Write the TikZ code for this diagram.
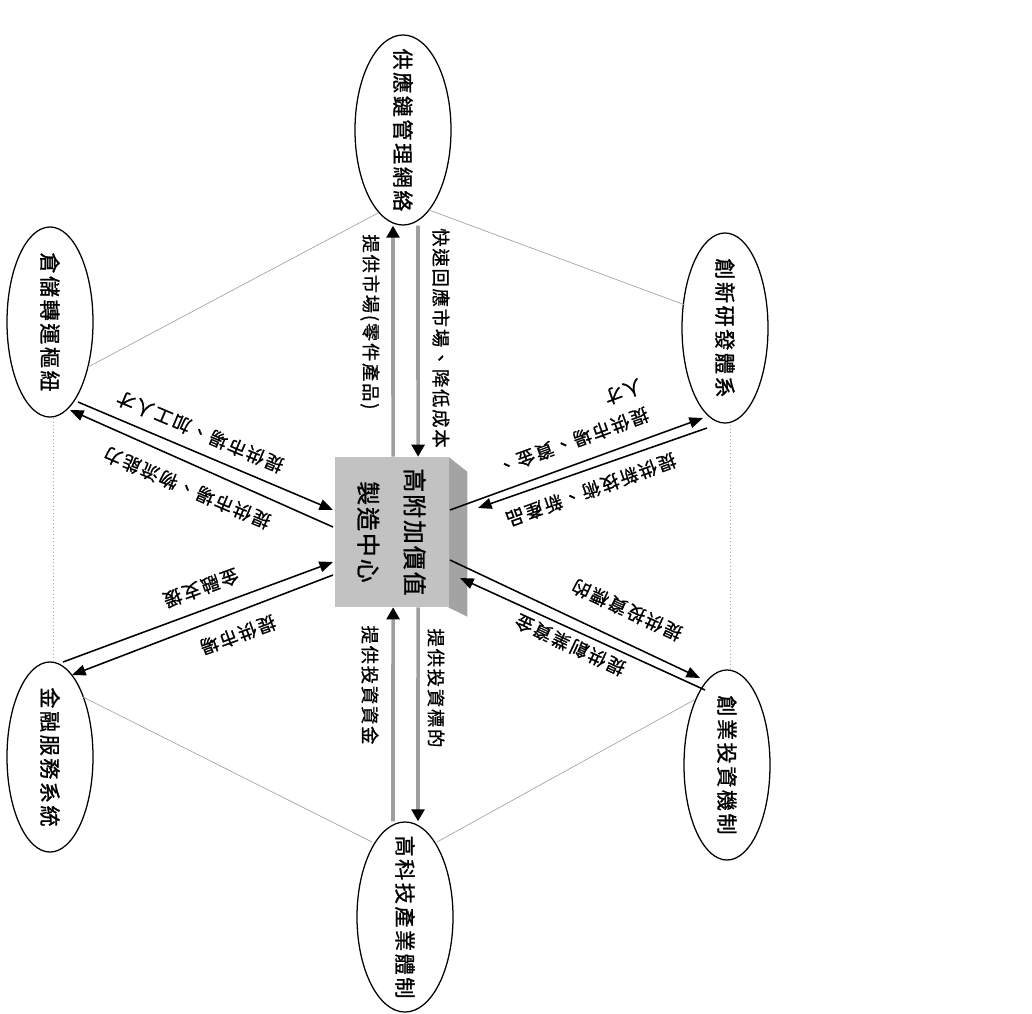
\documentclass[tikz,border=0pt]{standalone}
\usepackage{fontspec}
\usetikzlibrary{shapes.geometric,arrows.meta}
\newfontfamily\tcell[LetterSpace=12,FakeBold=1.2]{Noto Sans CJK TC}
\newfontfamily\tclab[LetterSpace=10,FakeBold=1]{Noto Sans CJK TC}
\newfontfamily\tcbox[LetterSpace=8,FakeBold=1.2]{Noto Sans CJK TC}
\definecolor{boxfront}{HTML}{C2C2C2}
\definecolor{boxside}{HTML}{A3A3A3}
\newcommand\ellname[1]{\makebox[2cm]{#1}}

\begin{document}
\begin{tikzpicture}[
    x=0.025cm, y=-0.025cm,
    every node/.style={inner sep=1pt},
    ell/.style={ellipse,draw,line width=0.9pt,rotate=-90,inner sep=0pt,
        minimum width=4.75cm,minimum height=2.15cm,
        font=\tcell\fontsize{15pt}{18pt}\selectfont},
    lab/.style={font=\tclab\fontsize{13pt}{16pt}\selectfont},
    ctr/.style={rectangle,fill=boxfront,rotate=-90,minimum width=3.75cm,
        minimum height=2.825cm,align=center,
        font=\tcbox\fontsize{17pt}{33pt}\selectfont},
    varr/.style={-{Triangle[color=black,length=0.3cm,width=0.32cm]},
        draw=gray!75,line width=2.6pt},
    darr/.style={-{Triangle[length=0.34cm,width=0.27cm]},line width=1.1pt},
    edge/.style={draw=gray!70,line width=0.5pt}
]
\useasboundingbox (0,0) rectangle (1032,1013);

% outer systems
\node[ell,minimum height=2.4cm] (supply) at (403,130) {\ellname{供應鏈管理網絡}};
\node[ell] (storage) at (50,322) {\ellname{倉儲轉運樞紐}};
\node[ell] (rnd) at (725,328) {\ellname{創新研發體系}};
\node[ell] (finance) at (50,757) {\ellname{金融服務系統}};
\node[ell] (venture) at (727,765) {\ellname{創業投資機制}};
\node[ell,minimum height=2.4cm] (hitech) at (405,917) {\ellname{高科技產業體制}};

% hub
\node[ctr] (hub) at (391.5,532) {高附加價值\\製造中心};
\fill[boxside] (hub.north west) -- ++(19,15) -- ++(0,145) -- (hub.north east) -- cycle;

% thin outline
\draw[edge] ([shift={(-25,83)}]supply.center) -- ([shift={(38,45)}]storage.center);
\draw[edge] ([shift={(26,80)}]supply.center) -- ([shift={(-40,-23)}]rnd.center);
\draw[edge,dotted] ([shift={(3,96)}]storage.center) -- ([shift={(3,-96)}]finance.center);
\draw[edge,dotted] ([shift={(5,97)}]rnd.center) -- ([shift={(3,-97)}]venture.center);
\draw[edge] ([shift={(33,-60)}]finance.center) -- ([shift={(-33,-75)}]hitech.center);
\draw[edge] ([shift={(-33,-65)}]venture.center) -- ([shift={(32,-75)}]hitech.center);

% vertical flows
\draw[varr] ([xshift=0.04cm]hub.west) -- ([xshift=-0.25cm]supply.east);
\draw[varr] ([xshift=0.375cm]supply.east) -- ([xshift=0.665cm]hub.west);
\draw[varr] ([xshift=-0.3cm]hitech.west) -- ([xshift=0.04cm]hub.east);
\draw[varr] ([xshift=0.665cm]hub.east) -- ([xshift=0.325cm]hitech.west);

% diagonal flows
\draw[darr] ([shift={(28,80)}]storage.center) -- ([shift={(-58.5,-22)}]hub.center);
\draw[darr] ([shift={(-58.5,-5)}]hub.center) -- ([shift={(20,88)}]storage.center);
\draw[darr] ([shift={(58.5,-22)}]hub.center) -- ([shift={(-22,90)}]rnd.center);
\draw[darr] ([shift={(-18,100)}]rnd.center) -- ([shift={(86.5,-24)}]hub.center);
\draw[darr] ([shift={(13,-95)}]finance.center) -- ([shift={(-58.5,30)}]hub.center);
\draw[darr] ([shift={(-58.5,43)}]hub.center) -- ([shift={(22,-82)}]finance.center);
\draw[darr] ([shift={(58.5,28)}]hub.center) -- ([shift={(-27,-87)}]venture.center);
\draw[darr] ([shift={(-22,-75)}]venture.center) -- ([shift={(68.5,46)}]hub.center);

% labels
\node[lab,rotate=-90] (lsup1) at (370,322) {提供市場(零件產品)};
\node[lab,rotate=-90] (lsup2) at (441,338) {快速回應市場、降低成本};
\node[lab,rotate=-90] (lhit1) at (370,685) {提供投資資金};
\node[lab,rotate=-90] (lhit2) at (436,688) {提供投資標的};
\node[lab,rotate=157] (lsto1) at (200,432) {提供市場、加工人才};
\node[lab,rotate=157] (lsto2) at (187,488) {提供市場、物流能力};
\node[lab,rotate=200] (lrnd1) at (573,441) {提供市場、資金、};
\node[lab,rotate=200] (lrnd3) at (623,392) {人才};
\node[lab,rotate=200] (lrnd2) at (591,490) {提供新技術、新產品};
\node[lab,rotate=200] (lfin1) at (201,588) {金融支援};
\node[lab,rotate=200] (lfin2) at (238,635) {提供市場};
\node[lab,rotate=155] (lven1) at (627,610) {提供投資標的};
\node[lab,rotate=155] (lven2) at (570,645) {提供創業資金};

\end{tikzpicture}
\end{document}
